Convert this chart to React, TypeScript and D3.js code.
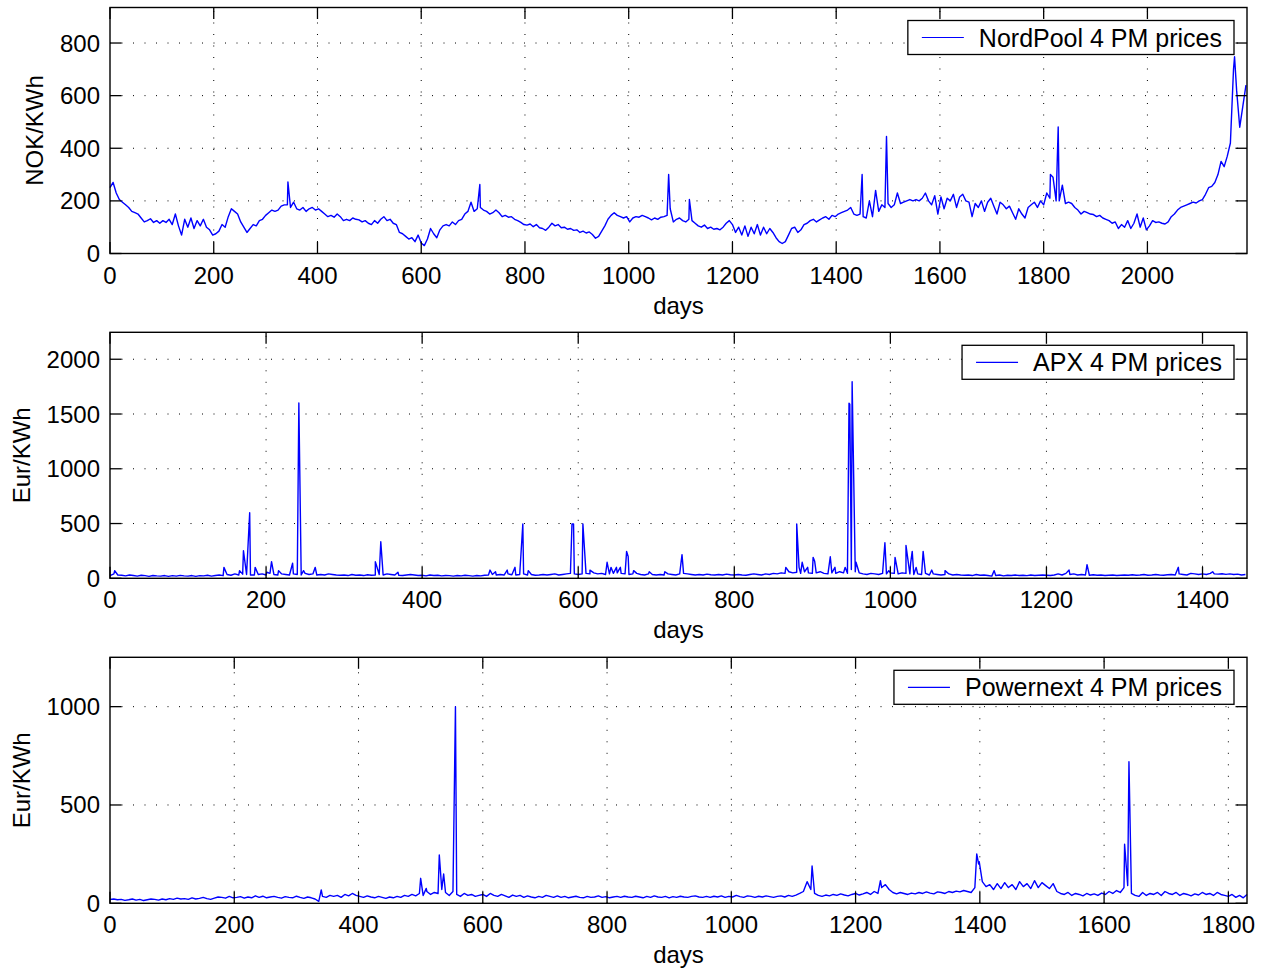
import React from "react";
import * as d3 from "d3";

// ---------------- DATA ----------------
// NordPool 4 PM prices (NOK/KWh), sampled every 6 days, plus single-day spikes
const NORD_STEP = 6;
const nordPoolBase: number[] = [
  250, 270, 230, 205, 195, 185, 175, 160, 155, 150, 135,
  120, 125, 132, 118, 125, 115, 125, 118, 130, 110,
  150, 105, 70, 130, 100, 135, 95, 125, 105, 130, 100, 90, 70,
  75, 85, 110, 100, 140, 170, 160, 150, 120, 100, 80, 95, 110, 105, 125, 130, 145,
  155, 165, 160, 165, 180, 185, 185, 175, 195, 170, 165, 175, 160, 170, 175, 165, 170,
  160, 150, 140, 145, 138, 150, 140, 125, 130, 125, 135, 130, 128, 120, 125, 115, 110,
  125, 115, 130, 140, 125, 130, 115, 110, 80, 75, 65, 55, 60, 45, 70, 40,
  30, 55, 95, 75, 60, 90, 105, 110, 105, 120, 110, 125, 130, 150, 160, 195, 160,
  170, 175, 165, 160, 150, 155, 165, 155, 140, 145, 138, 140, 130, 125, 118, 110, 108,
  112, 102, 110, 98, 95, 88, 100, 115, 105, 110, 98, 100, 92, 95, 88, 90, 80,
  85, 78, 82, 72, 58, 65, 85, 105, 130, 145, 155, 145, 140, 135, 140, 120, 135,
  140, 138, 145, 140, 135, 128, 135, 130, 138, 140, 145, 170, 120, 130, 135, 125, 120,
  130, 125, 115, 105, 100, 108, 95, 100, 92, 95, 90, 100, 115, 125, 110, 80, 100,
  70, 105, 65, 100, 75, 110, 70, 100, 75, 95, 80, 60, 45, 38, 45, 70, 95,
  100, 80, 90, 110, 115, 125, 130, 120, 128, 135, 140, 130, 145, 140, 150, 155, 160,
  165, 175, 150, 145, 150, 140, 135, 200, 140, 240, 160, 185, 175, 190, 175, 185, 230,
  190, 195, 200, 205, 200, 205, 200, 210, 230, 200, 185, 220, 150, 215, 170, 210, 200,
  225, 175, 215, 225, 200, 195, 140, 190, 175, 200, 160, 195, 210, 180, 150, 195, 185,
  170, 180, 155, 130, 170, 150, 135, 175, 185, 195, 175, 200, 185, 230, 210, 290, 200,
  200, 260, 190, 195, 190, 175, 165, 150, 160, 155, 150, 148, 140, 145, 135, 130, 125,
  115, 120, 95, 110, 100, 125, 95, 115, 150, 100, 135, 90, 105, 125, 118, 120, 115,
  112, 120, 140, 150, 165, 175, 180, 185, 190, 195, 192, 200, 205, 225, 250, 255, 270,
  300, 350, 330, 370, 420, 700, 620, 480, 560, 640,
];
const nordPoolSpikes: [number, number][] = [
  [343, 272], [713, 262], [1077, 300], [1117, 205], [1450, 300],
  [1497, 445], [1813, 300], [1828, 481], [2168, 748],
];

// APX 4 PM prices (Eur/KWh), sampled every 5 days, plus spikes
const APX_STEP = 5;
const apxBase: number[] = [
  25, 40, 30, 28, 22, 30, 25, 20, 28, 24, 18, 26, 22, 20, 25, 18, 24, 20, 27, 22,
  20, 25, 18, 24, 22, 28, 20, 26, 30, 24, 35, 28, 40, 30, 38, 35, 30, 30, 35, 40,
  30, 45, 35, 30, 40, 35, 30, 40, 35, 30, 45, 35, 40, 30, 35, 30, 40, 35, 30, 28,
  30, 25, 35, 28, 30, 25, 32, 28, 30, 35, 30, 40, 35, 30, 28, 25, 30, 35, 30, 25,
  28, 22, 30, 25, 28, 22, 26, 24, 20, 25, 22, 28, 24, 20, 26, 22, 28, 30, 35, 30,
  35, 30, 40, 32, 30, 35, 40, 30, 35, 28, 30, 35, 30, 35, 40, 30, 35, 40, 45, 40,
  35, 40, 45, 40, 50, 40, 45, 35, 40, 45, 50, 45, 40, 35, 40, 45, 35, 30, 40, 35,
  30, 35, 30, 40, 35, 30, 40, 45, 40, 35, 30, 35, 30, 38, 32, 30, 35, 30, 38, 32,
  30, 35, 30, 28, 35, 40, 35, 30, 40, 35, 45, 40, 50, 45, 60, 50, 55, 45, 60, 50,
  45, 50, 60, 45, 40, 50, 45, 60, 50, 45, 80, 60, 50, 40, 35, 45, 40, 35, 45, 40,
  50, 45, 40, 50, 45, 40, 35, 40, 35, 45, 30, 40, 35, 30, 35, 40, 30, 35, 30, 28,
  30, 25, 35, 28, 30, 25, 20, 25, 30, 22, 28, 25, 30, 25, 28, 24, 30, 26, 28, 30,
  28, 25, 30, 40, 30, 45, 35, 40, 30, 35, 30, 28, 32, 28, 30, 25, 28, 30, 25, 28,
  30, 28, 32, 28, 30, 35, 28, 30, 35, 30, 28, 32, 35, 30, 40, 35, 30, 45, 40, 35,
  40, 35, 45, 40, 38, 42, 36, 40, 35, 38, 30, 35,
];
const apxSpikes: [number, number][] = [
  [6, 70], [146, 100], [166, 70], [171, 252], [179, 599], [186, 100], [201, 55],
  [207, 152], [216, 70], [234, 137], [242, 1600], [248, 70], [263, 100], [340, 152],
  [347, 334], [369, 55], [487, 75], [494, 60], [509, 75], [519, 100], [529, 496],
  [536, 70], [592, 496], [594, 496], [606, 496], [615, 75], [637, 146], [642, 100],
  [649, 100], [654, 100], [662, 246], [664, 200], [671, 70], [691, 60], [711, 60],
  [733, 216], [866, 100], [880, 496], [883, 100], [887, 146], [894, 100], [901, 191],
  [903, 155], [923, 197], [929, 100], [942, 100], [947, 1598], [948, 1590], [951, 1795],
  [956, 146], [993, 325], [998, 70], [1006, 191], [1020, 300], [1026, 140], [1028, 246],
  [1033, 100], [1042, 246], [1053, 75], [1070, 70], [1133, 70], [1229, 75], [1252, 125],
  [1369, 100], [1413, 60],
];

// Powernext 4 PM prices (Eur/KWh), sampled every 6 days, plus spikes
const PNX_STEP = 6;
const powernextBase: number[] = [
  20, 22, 18, 20, 15, 18, 22, 16, 20, 14, 18, 22, 20, 16, 22, 18, 24, 20, 26, 22,
  24, 20, 28, 22, 25, 30, 24, 20, 26, 32, 30, 26, 35, 28, 30, 34, 26, 32, 28, 38,
  30, 36, 28, 32, 35, 30, 26, 34, 30, 28, 36, 30, 25, 32, 28, 22, 10, 35, 30, 40,
  35, 40, 30, 45, 38, 50, 40, 35, 30, 38, 32, 28, 35, 30, 25, 32, 28, 35, 30, 40,
  35, 45, 38, 50, 40, 60, 45, 55, 50, 70, 55, 40, 60, 45, 35, 50, 40, 45, 35, 40,
  45, 35, 50, 40, 35, 45, 38, 30, 42, 35, 40, 30, 38, 32, 28, 35, 30, 40, 35, 30,
  38, 30, 35, 28, 32, 36, 30, 28, 35, 30, 32, 38, 30, 34, 28, 32, 35, 30, 36, 32,
  30, 36, 32, 28, 35, 30, 38, 32, 30, 35, 28, 34, 30, 36, 32, 30, 35, 38, 32, 30,
  35, 30, 36, 32, 38, 30, 35, 32, 40, 34, 30, 38, 35, 30, 36, 32, 38, 34, 30, 35,
  38, 32, 40, 35, 42, 50, 60, 110, 70, 50, 40, 35, 42, 38, 45, 40, 48, 42, 38, 45,
  50, 42, 48, 55, 45, 60, 50, 80, 95, 70, 55, 48, 55, 50, 45, 52, 48, 55, 50, 58,
  52, 48, 58, 55, 50, 60, 55, 62, 58, 65, 60, 55, 80, 200, 110, 85, 95, 70, 100, 75,
  105, 80, 95, 70, 110, 85, 100, 75, 115, 80, 105, 90, 75, 100, 60, 50, 45, 55, 40, 50,
  45, 38, 50, 42, 48, 40, 52, 45, 60, 50, 65, 55, 80, 90, 50, 40, 35, 55, 40, 50,
  45, 55, 40, 60, 50, 45, 55, 40, 50, 45, 38, 48, 42, 55, 45, 50, 40, 55, 45, 40,
  35, 45, 30, 40, 28, 45,
];
const powernextSpikes: [number, number][] = [
  [340, 68], [500, 127], [509, 76], [530, 246], [537, 149], [556, 1000],
  [1130, 190], [1240, 115], [1395, 251], [1399, 212], [1633, 300], [1640, 720],
];

const nordXTicks = [0, 200, 400, 600, 800, 1000, 1200, 1400, 1600, 1800, 2000];
const nordYTicks = [0, 200, 400, 600, 800];
const apxXTicks = [0, 200, 400, 600, 800, 1000, 1200, 1400];
const apxYTicks = [0, 500, 1000, 1500, 2000];
const pnxXTicks = [0, 200, 400, 600, 800, 1000, 1200, 1400, 1600, 1800];
const pnxYTicks = [0, 500, 1000];

// ---------------- LAYOUT ----------------
const FONT = '"Liberation Sans", Arial, Helvetica, sans-serif';
const L = 110;
const R = 1247;
const H = 246;
const TICK = 11.5;
const FS = 24;
const LEG_FS = 25;

function buildSeries(base: number[], step: number, spikes: [number, number][]): [number, number][] {
  const pts: [number, number][] = base.map((v, i) => [i * step, v] as [number, number]);
  return pts.concat(spikes).sort((a, b) => a[0] - b[0]);
}

function measure(text: string, size: number): number {
  const ctx = document.createElement("canvas").getContext("2d");
  if (!ctx) return text.length * size * 0.5;
  ctx.font = `${size}px ${FONT}`;
  return ctx.measureText(text).width;
}

type PanelProps = {
  top: number;
  xMax: number;
  yMax: number;
  xTicks: number[];
  yTicks: number[];
  yLabel: string;
  yLabelX: number;
  legend: string;
  data: [number, number][];
};

function Panel({ top, xMax, yMax, xTicks, yTicks, yLabel, yLabelX, legend, data }: PanelProps) {
  const bottom = top + H;
  const x = d3.scaleLinear().domain([0, xMax]).range([L, R]);
  const y = d3.scaleLinear().domain([0, yMax]).range([bottom, top]);
  const line = d3
    .line<[number, number]>()
    .x((d) => x(d[0]))
    .y((d) => y(d[1]));

  const tw = measure(legend, LEG_FS);
  const legW = 14 + 42 + 15 + tw + 12;
  const legR = R - 13;
  const legL = legR - legW;
  const legT = top + 13;
  const legH = 34;
  const legCY = legT + legH / 2;

  const grid = "#000";
  return (
    <g>
      {xTicks
        .filter((t) => t > 0 && t < xMax)
        .map((t) => (
          <line key={"gx" + t} x1={x(t)} x2={x(t)} y1={bottom} y2={top} stroke={grid}
            strokeWidth={1} strokeDasharray="1 10.5" />
        ))}
      {yTicks
        .filter((t) => t > 0)
        .map((t) => (
          <line key={"gy" + t} x1={L} x2={R} y1={y(t)} y2={y(t)} stroke={grid}
            strokeWidth={1} strokeDasharray="1 10.5" />
        ))}
      <path d={line(data) || ""} fill="none" stroke="#0000ff" strokeWidth={1.4} strokeLinejoin="round" />
      <rect x={L} y={top} width={R - L} height={H} fill="none" stroke="#000" strokeWidth={1.4} />
      {xTicks.map((t) => (
        <g key={"tx" + t}>
          <line x1={x(t)} x2={x(t)} y1={bottom} y2={bottom - TICK} stroke="#000" strokeWidth={1.3} />
          <line x1={x(t)} x2={x(t)} y1={top} y2={top + TICK} stroke="#000" strokeWidth={1.3} />
          <text x={x(t)} y={bottom + 30} textAnchor="middle" fontSize={FS} fontFamily={FONT}>{t}</text>
        </g>
      ))}
      {yTicks.map((t) => (
        <g key={"ty" + t}>
          <line x1={L} x2={L + TICK} y1={y(t)} y2={y(t)} stroke="#000" strokeWidth={1.3} />
          <line x1={R} x2={R - TICK} y1={y(t)} y2={y(t)} stroke="#000" strokeWidth={1.3} />
          <text x={L - 10} y={y(t) + 8.5} textAnchor="end" fontSize={FS} fontFamily={FONT}>{t}</text>
        </g>
      ))}
      <text x={(L + R) / 2} y={bottom + 60} textAnchor="middle" fontSize={FS} fontFamily={FONT}>days</text>
      <text transform={`translate(${yLabelX},${(top + bottom) / 2}) rotate(-90)`} textAnchor="middle"
        fontSize={FS} fontFamily={FONT}>{yLabel}</text>
      <rect x={legL} y={legT} width={legW} height={legH} fill="#fff" stroke="#000" strokeWidth={1.3} />
      <line x1={legL + 14} x2={legL + 56} y1={legCY} y2={legCY} stroke="#0000ff" strokeWidth={1.2} />
      <text x={legL + 71} y={legCY + 9} fontSize={LEG_FS} fontFamily={FONT}>{legend}</text>
    </g>
  );
}

export default function App() {
  const nord = buildSeries(nordPoolBase, NORD_STEP, nordPoolSpikes);
  const apx = buildSeries(apxBase, APX_STEP, apxSpikes);
  const pnx = buildSeries(powernextBase, PNX_STEP, powernextSpikes);
  return (
    <svg width={1272} height={974} style={{ position: "absolute", left: 0, top: 0, background: "#fff" }}>
      <rect x={0} y={0} width={1272} height={974} fill="#fff" />
      <Panel top={7.5} xMax={2192} yMax={935} xTicks={nordXTicks} yTicks={nordYTicks}
        yLabel="NOK/KWh" yLabelX={43} legend="NordPool 4 PM prices" data={nord} />
      <Panel top={332.3} xMax={1457} yMax={2246} xTicks={apxXTicks} yTicks={apxYTicks}
        yLabel="Eur/KWh" yLabelX={30} legend="APX 4 PM prices" data={apx} />
      <Panel top={657.3} xMax={1830} yMax={1251} xTicks={pnxXTicks} yTicks={pnxYTicks}
        yLabel="Eur/KWh" yLabelX={30} legend="Powernext 4 PM prices" data={pnx} />
    </svg>
  );
}
